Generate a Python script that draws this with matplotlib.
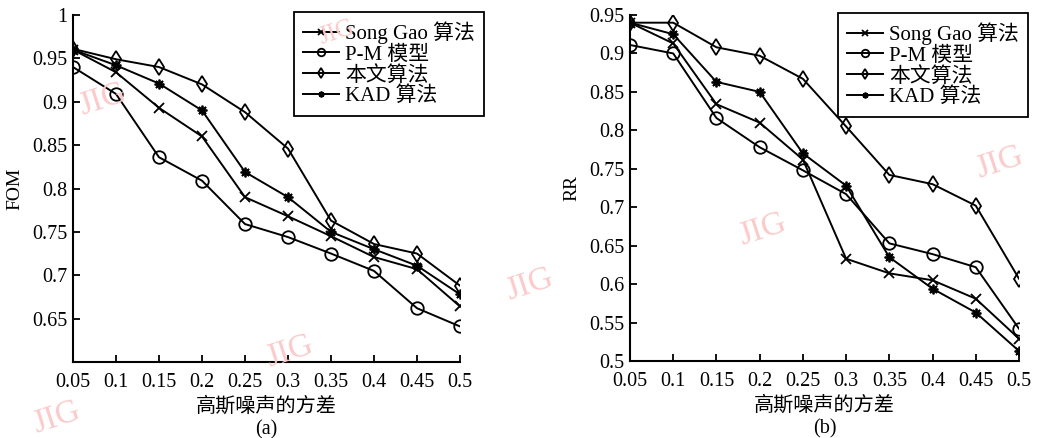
import numpy as np
import matplotlib
matplotlib.use('Agg')
import matplotlib.pyplot as plt

plt.rcParams['font.family'] = ['Liberation Serif', 'Noto Sans CJK SC']
plt.rcParams['axes.unicode_minus'] = False

noise_var = [0.05, 0.1, 0.15, 0.2, 0.25, 0.3, 0.35, 0.4, 0.45, 0.5]
labels = ['Song Gao 算法', 'P-M 模型', '本文算法', 'KAD 算法']

# (a) FOM
fom_songgao = [0.96, 0.934, 0.893, 0.860, 0.790, 0.768, 0.745, 0.721, 0.707, 0.664]
fom_pm = [0.940, 0.909, 0.836, 0.809, 0.759, 0.744, 0.725, 0.705, 0.662, 0.641]
fom_ours = [0.961, 0.949, 0.940, 0.920, 0.888, 0.846, 0.763, 0.736, 0.725, 0.688]
fom_kad = [0.960, 0.942, 0.921, 0.890, 0.819, 0.790, 0.750, 0.730, 0.711, 0.678]

# (b) RR
rr_songgao = [0.940, 0.913, 0.834, 0.810, 0.762, 0.633, 0.614, 0.605, 0.581, 0.529]
rr_pm = [0.911, 0.900, 0.816, 0.778, 0.748, 0.717, 0.653, 0.639, 0.622, 0.542]
rr_ours = [0.940, 0.940, 0.908, 0.897, 0.867, 0.805, 0.742, 0.730, 0.702, 0.607]
rr_kad = [0.940, 0.925, 0.863, 0.850, 0.770, 0.728, 0.635, 0.594, 0.563, 0.513]

fom_ticks = [0.65, 0.7, 0.75, 0.8, 0.85, 0.9, 0.95, 1]
rr_ticks = [0.5, 0.55, 0.6, 0.65, 0.7, 0.75, 0.8, 0.85, 0.9, 0.95]

markers = ['x', 'o', 'd', (8, 2, 0)]
msizes = [7, 9, 8, 7]

W, H = 1037, 438
fig = plt.figure(figsize=(W / 100, H / 100), dpi=100)
ax_a = fig.add_axes([73 / W, 1 - 362 / H, 387 / W, 347 / H])
ax_b = fig.add_axes([630 / W, 1 - 361 / H, 389 / W, 346 / H])


def draw(ax, series, ticks, ylim, ylabel, tag, leg_right, leg_top):
    for s, lab, m, ms in zip(series, labels, markers, msizes):
        ax.plot(noise_var, s, color='black', lw=1.4, marker=m, ms=ms,
                mfc='none', mec='black', mew=1.3, label=lab, zorder=3)
    ax.set_xlim(0.05, 0.5)
    ax.set_ylim(*ylim)
    ax.set_xticks(noise_var)
    ax.set_xticklabels(['%g' % v for v in noise_var])
    ax.set_yticks(ticks)
    ax.set_yticklabels(['%g' % v for v in ticks])
    ax.spines['top'].set_visible(False)
    ax.spines['right'].set_visible(False)
    for sp in ('left', 'bottom'):
        ax.spines[sp].set_linewidth(1.5)
    ax.tick_params(direction='in', length=5, width=1.3, labelsize=14.5, pad=4)
    ax.tick_params(axis='x', pad=8)
    ax.set_ylabel(ylabel, fontsize=14, labelpad=6)
    ax.set_xlabel('高斯噪声的方差\n' + tag, fontsize=14.5, labelpad=4, linespacing=1.2)
    leg = ax.legend(loc='upper right', bbox_to_anchor=(leg_right / W, 1 - leg_top / H),
                    bbox_transform=fig.transFigure, borderaxespad=0, fontsize=15,
                    fancybox=False, edgecolor='black', framealpha=1,
                    handlelength=1.7, labelspacing=0.05, handletextpad=0.3,
                    borderpad=0.45, markerscale=0.6)
    leg.get_frame().set_linewidth(1.3)


draw(ax_a, [fom_songgao, fom_pm, fom_ours, fom_kad], fom_ticks, (0.6, 1.0),
     'FOM', '(a)', 484, 12)
draw(ax_b, [rr_songgao, rr_pm, rr_ours, rr_kad], rr_ticks, (0.5, 0.95),
     'RR', '(b)', 1028, 13)

# pink watermarks
for (x, y, s) in [(103, 100, 24), (57, 418, 24), (290, 352, 24), (337, 33, 18),
                  (530, 285, 24), (763, 230, 24), (1000, 163, 24)]:
    fig.text(x / W, 1 - y / H, 'JIG', fontsize=s, color='#fbcaca', rotation=18,
             ha='center', va='center', zorder=0, family='Liberation Serif')

fig.savefig('out.png', dpi=100)
